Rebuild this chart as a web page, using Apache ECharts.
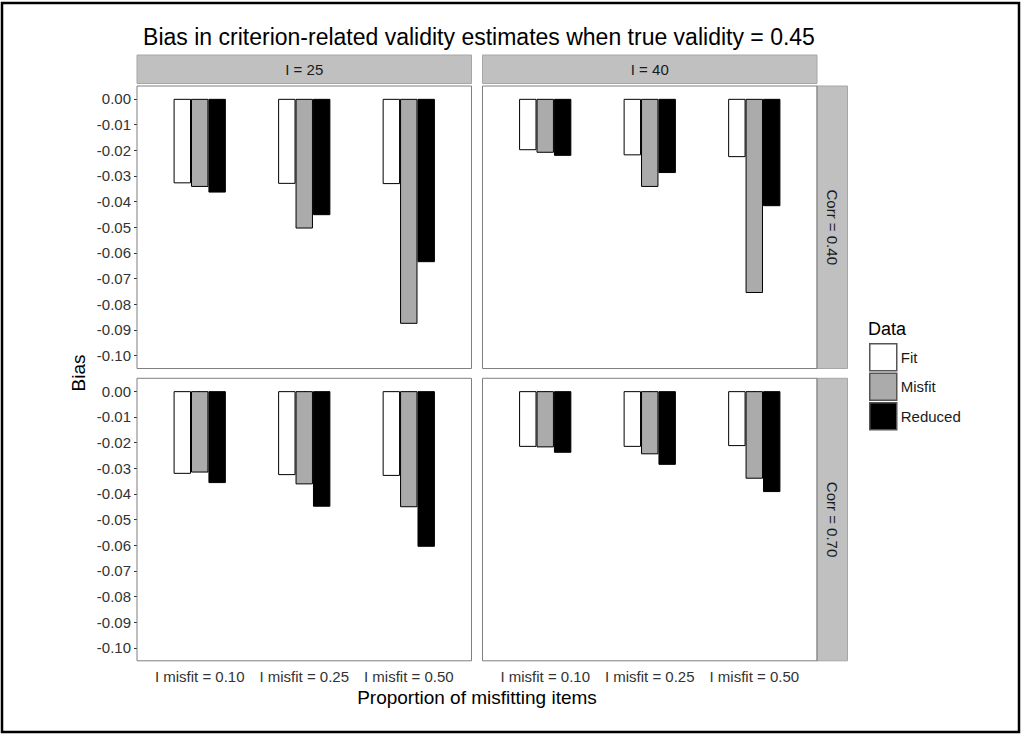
<!DOCTYPE html>
<html>
<head>
<meta charset="utf-8">
<script src="https://cdn.jsdelivr.net/npm/echarts@6/dist/echarts.min.js"></script>
<style>html,body{margin:0;padding:0;background:#fff;}#c{width:1021px;height:735px;}</style>
</head>
<body>
<div id="c"></div>
<script>
// ---- data ----
const categories = ['I misfit = 0.10', 'I misfit = 0.25', 'I misfit = 0.50'];
const seriesNames = ['Fit', 'Misfit', 'Reduced'];
const colLabels = ['I = 25', 'I = 40'];
const rowLabels = ['Corr = 0.40', 'Corr = 0.70'];
const yTicks = [0, -0.01, -0.02, -0.03, -0.04, -0.05, -0.06, -0.07, -0.08, -0.09, -0.10];

// I = 25, Corr = 0.40
const fit_25_040     = [-0.0329, -0.0331, -0.0332];
const misfit_25_040  = [-0.0343, -0.0505, -0.0876];
const reduced_25_040 = [-0.0365, -0.0453, -0.0636];
// I = 40, Corr = 0.40
const fit_40_040     = [-0.0200, -0.0220, -0.0227];
const misfit_40_040  = [-0.0210, -0.0343, -0.0756];
const reduced_40_040 = [-0.0222, -0.0289, -0.0418];
// I = 25, Corr = 0.70
const fit_25_070     = [-0.0322, -0.0327, -0.0330];
const misfit_25_070  = [-0.0317, -0.0363, -0.0452];
const reduced_25_070 = [-0.0358, -0.0450, -0.0606];
// I = 40, Corr = 0.70
const fit_40_070     = [-0.0217, -0.0217, -0.0214];
const misfit_40_070  = [-0.0219, -0.0246, -0.0341];
const reduced_40_070 = [-0.0240, -0.0287, -0.0393];

const panelData = [
  [[fit_25_040, misfit_25_040, reduced_25_040], [fit_40_040, misfit_40_040, reduced_40_040]],
  [[fit_25_070, misfit_25_070, reduced_25_070], [fit_40_070, misfit_40_070, reduced_40_070]]
];

// ---- layout ----
const colX = [137, 482.5];
const colW = 334.5;
const rowY = [86, 378.3];
const rowH = 282.5;
const yPad = rowH * 0.005 / 0.11;         // ggplot expansion on value axis
const xPad = colW * 0.1 / 3.2;            // ggplot discrete expansion (0.6 units) minus half band
const fills = ['#ffffff', '#ababab', '#000000'];
const FONT = 'Liberation Sans, Arial, sans-serif';
const textCol = '#1a1a1a';
const tickCol = '#333333';

const grids = [], xAxes = [], yAxes = [], series = [], graphics = [];
let gi = 0;
for (let r = 0; r < 2; r++) {
  for (let c = 0; c < 2; c++) {
    grids.push({
      left: colX[c] + xPad,
      top: rowY[r] + yPad,
      width: colW - 2 * xPad,
      height: rowH - 2 * yPad,
      containLabel: false
    });
    xAxes.push({
      type: 'category', gridIndex: gi, data: categories,
      boundaryGap: true, offset: yPad,
      axisLine: { show: false },
      axisTick: { show: r === 1, alignWithLabel: true, length: 3, lineStyle: { color: tickCol, width: 1 } },
      axisLabel: { show: r === 1, fontSize: 15, color: tickCol, margin: 8, fontFamily: FONT, interval: 0 },
      splitLine: { show: false }
    });
    yAxes.push({
      type: 'value', gridIndex: gi, min: -0.10, max: 0, interval: 0.01,
      offset: xPad,
      axisLine: { show: false },
      axisTick: { show: c === 0, length: 3, lineStyle: { color: tickCol, width: 1 } },
      axisLabel: { show: c === 0, fontSize: 15, color: tickCol, margin: 6, fontFamily: FONT,
        formatter: v => (Math.abs(v) < 1e-9 ? '0.00' : v.toFixed(2)) },
      splitLine: { show: false }
    });
    for (let s = 0; s < 3; s++) {
      series.push({
        type: 'bar', name: seriesNames[s], xAxisIndex: gi, yAxisIndex: gi,
        data: panelData[r][c][s],
        barWidth: '16.67%', barGap: '0%',
        itemStyle: { color: fills[s], borderColor: '#000', borderWidth: 1 },
        emphasis: { disabled: true },
        animation: false
      });
    }
    // panel border
    graphics.push({ type: 'rect', shape: { x: colX[c], y: rowY[r], width: colW, height: rowH },
      style: { fill: 'none', stroke: '#7f7f7f', lineWidth: 1 }, z: 10 });
    gi++;
  }
}

// top strips
for (let c = 0; c < 2; c++) {
  graphics.push({ type: 'rect', shape: { x: colX[c], y: 55, width: colW, height: 28.5 },
    style: { fill: '#c0c0c0', stroke: '#a6a6a6', lineWidth: 1 } });
  graphics.push({ type: 'text', x: colX[c] + colW / 2, y: 69.5,
    style: { text: colLabels[c], fill: textCol, font: '15px ' + FONT, align: 'center', verticalAlign: 'middle' } });
}
// right strips
for (let r = 0; r < 2; r++) {
  graphics.push({ type: 'rect', shape: { x: 817, y: rowY[r], width: 30.5, height: rowH },
    style: { fill: '#c0c0c0', stroke: '#a6a6a6', lineWidth: 1 } });
  graphics.push({ type: 'text', x: 832.5, y: rowY[r] + rowH / 2, rotation: -Math.PI / 2,
    style: { text: rowLabels[r], fill: textCol, font: '15px ' + FONT, align: 'center', verticalAlign: 'middle' } });
}
// title and axis titles
graphics.push({ type: 'text', x: 479, y: 37,
  style: { text: 'Bias in criterion-related validity estimates when true validity = 0.45', fill: '#000',
    font: '23px ' + FONT, align: 'center', verticalAlign: 'middle' } });
graphics.push({ type: 'text', x: 477, y: 697,
  style: { text: 'Proportion of misfitting items', fill: '#000', font: '19px ' + FONT, align: 'center', verticalAlign: 'middle' } });
graphics.push({ type: 'text', x: 78, y: 373, rotation: Math.PI / 2,
  style: { text: 'Bias', fill: '#000', font: '19px ' + FONT, align: 'center', verticalAlign: 'middle' } });
graphics.push({ type: 'text', x: 868, y: 329,
  style: { text: 'Data', fill: '#000', font: '18px ' + FONT, align: 'left', verticalAlign: 'middle' } });
// outer frame
graphics.push({ type: 'rect', shape: { x: 2, y: 3, width: 1017, height: 729 },
  style: { fill: 'none', stroke: '#000', lineWidth: 2.5 }, z: 20 });

const chart = echarts.init(document.getElementById('c'), null, { renderer: 'svg' });
chart.setOption({
  backgroundColor: '#fff',
  animation: false,
  grid: grids,
  xAxis: xAxes,
  yAxis: yAxes,
  series: series,
  legend: {
    data: seriesNames.map((n, i) => ({ name: n, icon: 'rect',
      itemStyle: { color: fills[i], borderColor: '#555', borderWidth: 1.5 } })),
    orient: 'vertical', left: 869, top: 343, padding: 0,
    itemWidth: 27, itemHeight: 27, itemGap: 1,
    textStyle: { fontSize: 15, color: textCol, fontFamily: FONT, padding: [0, 0, 0, -1] },
    selectedMode: false
  },
  graphic: graphics
});
</script>
</body>
</html>
